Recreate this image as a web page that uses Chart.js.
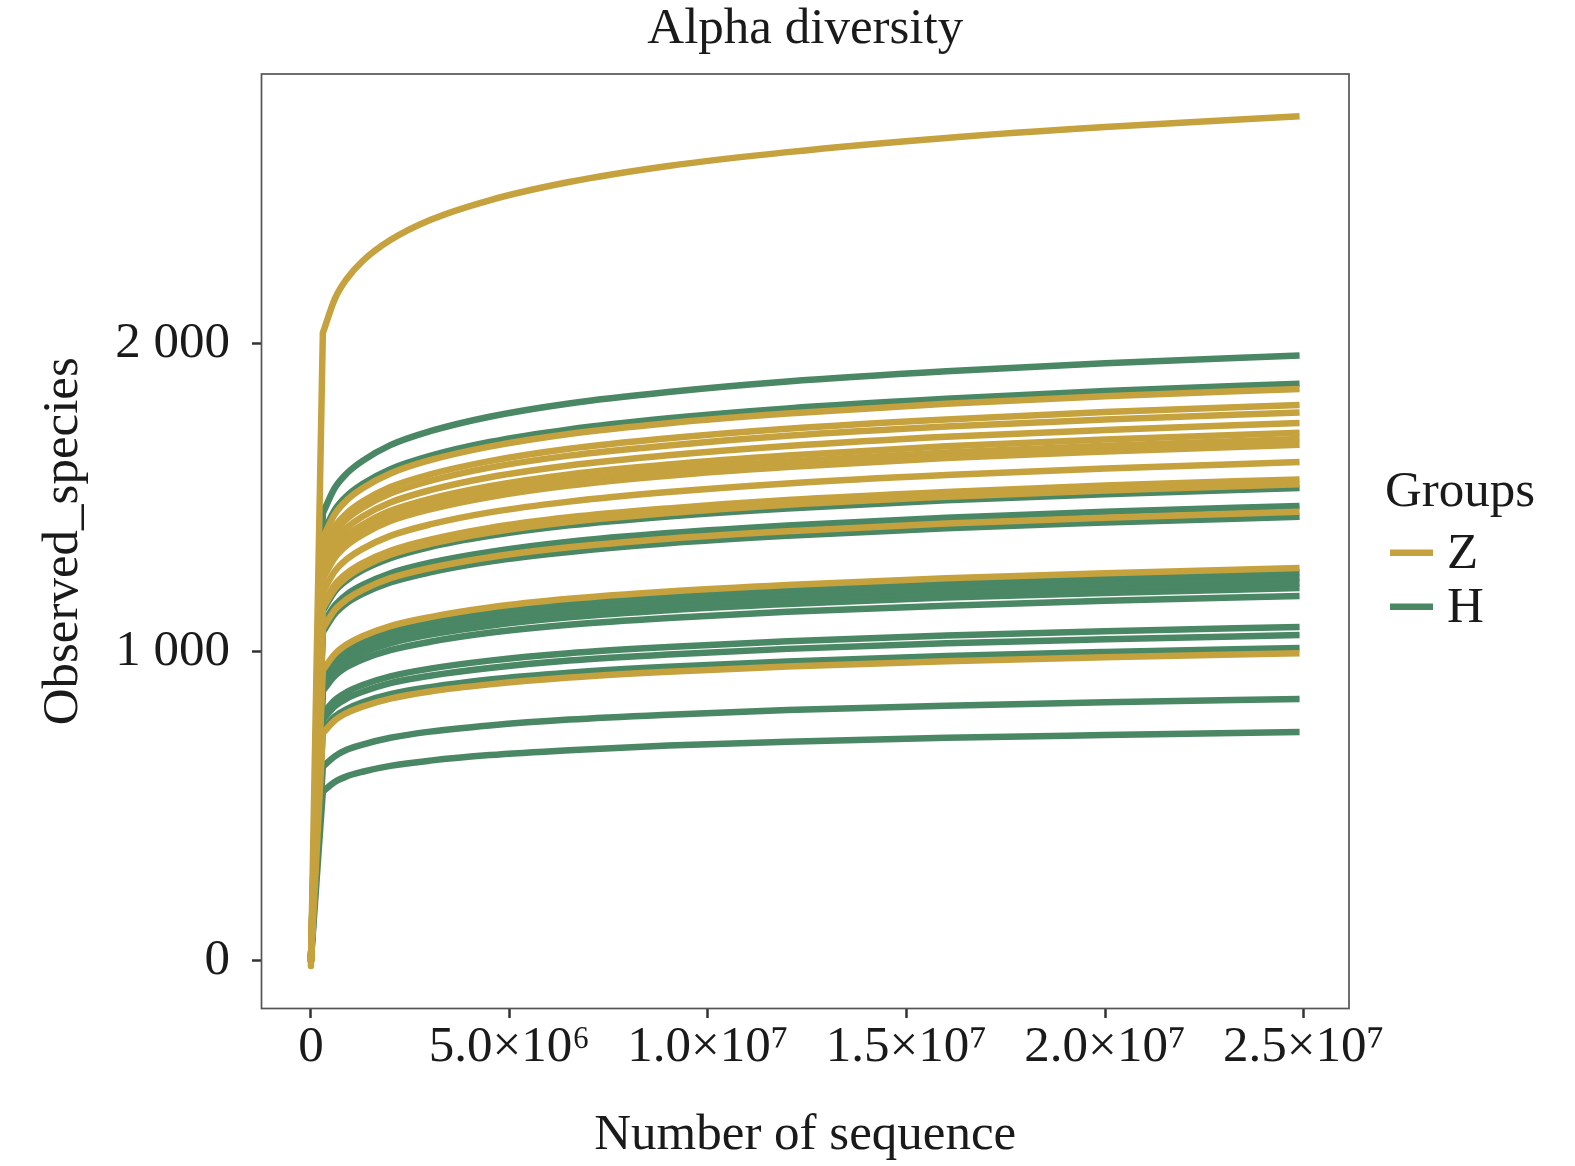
<!DOCTYPE html>
<html>
<head>
<meta charset="utf-8">
<title>Alpha diversity</title>
<script src="https://cdn.jsdelivr.net/npm/chart.js@4.4.1/dist/chart.umd.min.js"></script>
<style>
  html, body { margin: 0; padding: 0; background: #fff; }
  canvas { display: block; }
</style>
</head>
<body>
<canvas id="alphaChart" width="1575" height="1166"></canvas>
<script>
const depth = [0, 3e5, 6e5, 9e5, 1.3e6, 2e6, 3e6, 4.5e6, 6.5e6, 9e6, 1.2e7, 1.6e7, 2e7, 2.49e7];

// group Z samples (observed species)
const Z1  = [-17, 2033, 2143, 2208, 2266, 2334, 2399, 2463, 2522, 2574, 2619, 2665, 2700, 2735];
const Z2  = [0, 1370, 1446, 1491, 1530, 1578, 1621, 1665, 1706, 1741, 1772, 1804, 1828, 1852];
const Z3  = [0, 1332, 1406, 1449, 1487, 1534, 1575, 1618, 1658, 1692, 1723, 1753, 1777, 1800];
const Z4  = [0, 1314, 1387, 1430, 1467, 1513, 1554, 1597, 1636, 1669, 1700, 1730, 1753, 1776];
const Z5  = [0, 1289, 1361, 1402, 1439, 1484, 1524, 1566, 1604, 1637, 1667, 1697, 1719, 1742];
const Z6  = [0, 1265, 1336, 1377, 1412, 1457, 1496, 1537, 1575, 1607, 1636, 1666, 1688, 1710];
const Z7  = [0, 1251, 1320, 1360, 1396, 1440, 1479, 1519, 1556, 1589, 1617, 1646, 1668, 1690];
const Z8  = [0, 1237, 1305, 1345, 1380, 1424, 1462, 1502, 1539, 1571, 1599, 1628, 1649, 1671];
const Z9  = [0, 1195, 1261, 1300, 1334, 1376, 1413, 1452, 1487, 1518, 1546, 1573, 1594, 1615];
const Z10 = [0, 1154, 1218, 1255, 1288, 1328, 1364, 1402, 1436, 1465, 1492, 1518, 1539, 1559];
const Z11 = [0, 1142, 1205, 1242, 1275, 1315, 1350, 1387, 1421, 1450, 1477, 1503, 1523, 1543];
const Z12 = [0, 1076, 1136, 1170, 1201, 1239, 1272, 1307, 1339, 1367, 1391, 1416, 1435, 1454];
const Z13 = [0, 941, 993, 1024, 1051, 1084, 1113, 1144, 1172, 1196, 1217, 1239, 1255, 1272];
const Z14 = [0, 737, 778, 802, 823, 849, 872, 895, 917, 936, 953, 970, 983, 996];

// group H samples
const H1  = [0, 1450, 1531, 1578, 1619, 1670, 1715, 1762, 1805, 1842, 1876, 1909, 1935, 1960];
const H2  = [0, 1383, 1460, 1505, 1544, 1592, 1635, 1680, 1721, 1757, 1789, 1820, 1845, 1869];
const H3  = [0, 1133, 1196, 1232, 1265, 1304, 1340, 1376, 1410, 1439, 1465, 1491, 1511, 1531];
const H4  = [0, 1090, 1150, 1186, 1217, 1255, 1289, 1324, 1357, 1385, 1410, 1435, 1454, 1473];
const H5  = [0, 1064, 1123, 1158, 1188, 1225, 1258, 1293, 1324, 1352, 1376, 1401, 1419, 1438];
const H6  = [0, 931, 982, 1013, 1039, 1072, 1101, 1131, 1159, 1183, 1204, 1225, 1242, 1258];
const H7  = [0, 918, 968, 998, 1024, 1056, 1085, 1115, 1142, 1166, 1187, 1208, 1224, 1240];
const H8  = [0, 906, 956, 985, 1011, 1043, 1071, 1100, 1127, 1151, 1171, 1192, 1208, 1224];
const H9  = [0, 893, 943, 972, 997, 1028, 1056, 1085, 1112, 1135, 1155, 1176, 1191, 1207];
const H10 = [0, 874, 922, 951, 976, 1006, 1033, 1062, 1088, 1110, 1130, 1150, 1166, 1181];
const H11 = [0, 800, 844, 870, 893, 921, 946, 972, 996, 1016, 1035, 1053, 1067, 1081];
const H12 = [0, 781, 824, 849, 871, 899, 923, 948, 972, 992, 1010, 1028, 1041, 1055];
const H13 = [0, 750, 791, 815, 837, 863, 886, 911, 933, 952, 969, 987, 1000, 1013];
const H14 = [0, 628, 662, 683, 700, 722, 742, 762, 781, 797, 812, 826, 837, 848];
const H15 = [0, 548, 579, 597, 612, 631, 648, 666, 682, 697, 709, 722, 731, 741];

const zSamples = [Z1, Z2, Z3, Z4, Z5, Z6, Z7, Z8, Z9, Z10, Z11, Z12, Z13, Z14];
const hSamples = [H1, H2, H3, H4, H5, H6, H7, H8, H9, H10, H11, H12, H13, H14, H15];

const groupNames = ['Z', 'H'];

// axis ticks
const xTickValues = [0, 5e6, 1e7, 1.5e7, 2e7, 2.5e7];
const xTickLabels = ['0', '5.0×10⁶', '1.0×10⁷', '1.5×10⁷', '2.0×10⁷', '2.5×10⁷'];
const yTickValues = [0, 1000, 2000];
const yTickLabels = ['0', '1 000', '2 000'];

const tan = '#C5A23E';
const green = '#4A8764';
const groupColors = [tan, green];
const textColor = '#1a1a1a';
const serif = "'Liberation Serif', 'Times New Roman', serif";

function toPoints(xs, ys) {
    return xs.map((x, i) => ({ x: x, y: ys[i] }));
}

// each curve = straight initial rise + smooth monotone tail
function makeSets(label, values, color) {
    const base = {
        label: label,
        borderColor: color,
        backgroundColor: color,
        borderWidth: 6.5,
        borderJoinStyle: 'round',
        pointRadius: 0,
        pointHoverRadius: 0,
        fill: false
    };
    const rise = Object.assign({}, base, {
        data: toPoints(depth.slice(0, 2), values.slice(0, 2)),
        borderCapStyle: 'round',
        tension: 0
    });
    const tail = Object.assign({}, base, {
        data: toPoints(depth.slice(1), values.slice(1)),
        borderCapStyle: 'butt',
        cubicInterpolationMode: 'monotone'
    });
    return [rise, tail];
}

// Z first so it is painted on top of H
const datasets = [];
zSamples.forEach(s => datasets.push(...makeSets('Z', s, tan)));
hSamples.forEach(s => datasets.push(...makeSets('H', s, green)));

const panelBorder = {
    id: 'panelBorder',
    afterDatasetsDraw(chart) {
        const { ctx, chartArea: a } = chart;
        ctx.save();
        ctx.strokeStyle = '#555';
        ctx.lineWidth = 1.7;
        ctx.strokeRect(a.left, a.top, a.right - a.left, a.bottom - a.top);
        ctx.restore();
    }
};

// ggplot-style legend to the right of the panel
const groupLegend = {
    id: 'groupLegend',
    afterDraw(chart) {
        const { ctx, chartArea: a } = chart;
        const x0 = a.right + 36;
        const mid = (a.top + a.bottom) / 2;
        ctx.save();
        ctx.font = '51px ' + serif;
        ctx.fillStyle = textColor;
        ctx.textAlign = 'left';
        ctx.textBaseline = 'alphabetic';
        ctx.fillText('Groups', x0, mid - 35.75);
        groupNames.forEach((name, i) => {
            const rowY = mid + 11.5 + i * 54;
            ctx.fillStyle = groupColors[i];
            ctx.fillRect(x0 + 5, rowY - 3.25, 43, 6.5);
            ctx.fillStyle = textColor;
            ctx.fillText(name, x0 + 62, rowY + 15.5);
        });
        ctx.restore();
    }
};

const tickGrid = {
    display: true,
    drawOnChartArea: false,
    drawTicks: true,
    tickLength: 9.5,
    tickWidth: 2.5,
    tickColor: '#333'
};

new Chart(document.getElementById('alphaChart').getContext('2d'), {
    type: 'line',
    data: { datasets: datasets },
    plugins: [panelBorder, groupLegend],
    options: {
        responsive: false,
        devicePixelRatio: 1,
        animation: false,
        events: [],
        layout: { padding: { left: 30, right: 226, top: 0, bottom: 0 } },
        scales: {
            x: {
                type: 'linear',
                min: -1.245e6,
                max: 2.6145e7,
                afterBuildTicks: s => { s.ticks = xTickValues.map(v => ({ value: v })); },
                afterFit: s => { s.height = 157.5; },
                grid: tickGrid,
                border: { display: false },
                ticks: {
                    padding: 4,
                    maxRotation: 0,
                    autoSkip: false,
                    color: textColor,
                    font: { family: serif, size: 51, lineHeight: 1 },
                    callback: v => xTickLabels[xTickValues.indexOf(v)]
                },
                title: {
                    display: true,
                    text: 'Number of sequence',
                    color: textColor,
                    font: { family: serif, size: 51, lineHeight: 1 },
                    padding: { top: 0, bottom: 4.5 }
                }
            },
            y: {
                type: 'linear',
                min: -154.8,
                max: 2872,
                afterBuildTicks: s => { s.ticks = yTickValues.map(v => ({ value: v })); },
                afterFit: s => { s.width = 231.5; },
                grid: tickGrid,
                border: { display: false },
                ticks: {
                    padding: 22,
                    color: textColor,
                    font: { family: serif, size: 51, lineHeight: 1 },
                    callback: v => yTickLabels[yTickValues.indexOf(v)]
                },
                title: {
                    display: true,
                    text: 'Observed_species',
                    color: textColor,
                    font: { family: serif, size: 51, lineHeight: 1 },
                    padding: { top: 7.8, bottom: 0 }
                }
            }
        },
        plugins: {
            title: {
                display: true,
                text: 'Alpha diversity',
                fullSize: false,
                color: textColor,
                font: { family: serif, size: 51, weight: 'normal', lineHeight: 1 },
                padding: { top: 4, bottom: 19 }
            },
            legend: { display: false },
            tooltip: { enabled: false }
        }
    }
});
</script>
</body>
</html>
